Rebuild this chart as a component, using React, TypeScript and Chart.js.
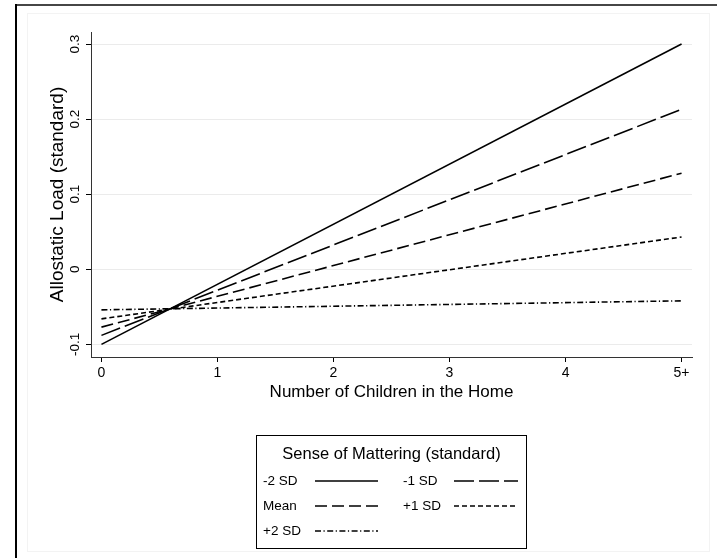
import React, { useEffect, useRef } from "react";
import { Chart, registerables } from "chart.js";

Chart.register(...registerables);

// ---- data ----
const xValues = [0, 5];
const xTickValues = [0, 1, 2, 3, 4, 5];
const xTickLabels = ["0", "1", "2", "3", "4", "5+"];
const yTickValues = [-0.1, 0, 0.1, 0.2, 0.3];
const yTickLabels = ["-0.1", "0", "0.1", "0.2", "0.3"];

const seriesLabels = ["-2 SD", "-1 SD", "Mean", "+1 SD", "+2 SD"];
const sdMinus2 = [-0.1, 0.3];
const sdMinus1 = [-0.088, 0.213];
const sdMean = [-0.077, 0.128];
const sdPlus1 = [-0.066, 0.043];
const sdPlus2 = [-0.054, -0.042];

const FONT = "'Liberation Sans', Arial, Helvetica, sans-serif";

const dashes: number[][] = [[], [20, 5], [12, 5], [5, 3], [6, 2.5, 1.2, 2.5]];

const framePlugin = {
  id: "frame",
  beforeDraw(chart: any) {
    const ctx = chart.ctx;
    ctx.save();
    ctx.fillStyle = "#ffffff";
    ctx.fillRect(0, 0, chart.width, chart.height);
    // faint inner box
    ctx.strokeStyle = "#f3f3f3";
    ctx.lineWidth = 1;
    ctx.strokeRect(27.5, 13.5, 682, 538);
    // outer frame
    ctx.fillStyle = "#464646";
    ctx.fillRect(16, 4, chart.width - 16, 2);
    ctx.fillStyle = "#000000";
    ctx.fillRect(15, 4, 2, chart.height - 4);
    ctx.restore();
  },
};

// tick labels drawn at the scales' own pixel positions
const tickLabelPlugin = {
  id: "tickLabels",
  afterDraw(chart: any) {
    const ctx = chart.ctx;
    const xs = chart.scales.x;
    const ys = chart.scales.y;
    ctx.save();
    ctx.fillStyle = "#000";
    ctx.font = `14px ${FONT}`;
    ctx.textAlign = "center";
    ctx.textBaseline = "middle";
    xTickValues.forEach((v, i) => {
      ctx.fillText(xTickLabels[i], xs.getPixelForValue(v), xs.top + 16);
    });
    ctx.font = `13.5px ${FONT}`;
    yTickValues.forEach((v, i) => {
      ctx.save();
      ctx.translate(ys.right - 16, ys.getPixelForValue(v));
      ctx.rotate(-Math.PI / 2);
      ctx.fillText(yTickLabels[i], 0, 0);
      ctx.restore();
    });
    ctx.restore();
  },
};

const legendPlugin = {
  id: "boxLegend",
  afterDraw(chart: any) {
    const ctx = chart.ctx;
    const ds = chart.data.datasets;
    const bx = 256.5, by = 435.5, bw = 270, bh = 113;
    ctx.save();
    ctx.strokeStyle = "#000";
    ctx.lineWidth = 1;
    ctx.strokeRect(bx, by, bw, bh);
    ctx.fillStyle = "#000";
    ctx.font = `16.5px ${FONT}`;
    ctx.textAlign = "center";
    ctx.textBaseline = "middle";
    ctx.fillText("Sense of Mattering (standard)", bx + bw / 2, 454);
    ctx.font = `13.5px ${FONT}`;
    ctx.textAlign = "left";
    const rows = [481, 506, 531];
    const cols = [
      { tx: 263, l1: 315, l2: 378 },
      { tx: 403, l1: 454, l2: 518 },
    ];
    ds.forEach((d: any, i: number) => {
      const r = rows[Math.floor(i / 2)];
      const c = cols[i % 2];
      ctx.fillStyle = "#000";
      ctx.fillText(d.label, c.tx, r);
      ctx.beginPath();
      ctx.setLineDash(d.borderDash || []);
      ctx.lineWidth = d.borderWidth;
      ctx.strokeStyle = d.borderColor;
      ctx.moveTo(c.l1, r);
      ctx.lineTo(c.l2, r);
      ctx.stroke();
      ctx.setLineDash([]);
    });
    ctx.restore();
  },
};

export default function App() {
  const ref = useRef<HTMLCanvasElement | null>(null);
  useEffect(() => {
    document.body.style.margin = "0";
    const canvas = ref.current;
    if (!canvas) return;
    const all = [sdMinus2, sdMinus1, sdMean, sdPlus1, sdPlus2];
    const chart = new Chart(canvas, {
      type: "line",
      data: {
        datasets: all.map((vals, i) => ({
          label: seriesLabels[i],
          data: vals.map((v, j) => ({ x: xValues[j], y: v })),
          borderColor: "#000000",
          borderWidth: 1.6,
          borderDash: dashes[i],
          pointRadius: 0,
          fill: false,
          tension: 0,
        })),
      },
      options: {
        animation: false,
        responsive: false,
        maintainAspectRatio: false,
        layout: { padding: { left: 20, top: 32, right: 25, bottom: 151 } },
        plugins: { legend: { display: false }, tooltip: { enabled: false } },
        scales: {
          x: {
            type: "linear",
            min: -0.09,
            max: 5.09,
            afterBuildTicks: (s: any) => {
              s.ticks = xTickValues.map((v) => ({ value: v }));
            },
            afterFit: (s: any) => {
              s.height = 50;
            },
            ticks: { display: false, autoSkip: false },
            grid: {
              drawOnChartArea: false,
              drawTicks: true,
              tickLength: 5,
              tickColor: "#000",
              tickWidth: 1,
            },
            border: { color: "#333", width: 1 },
            title: {
              display: true,
              text: "Number of Children in the Home",
              color: "#000",
              font: { family: FONT, size: 17 },
              padding: { top: 0, bottom: 4 },
            },
          },
          y: {
            type: "linear",
            min: -0.1168,
            max: 0.316,
            afterBuildTicks: (s: any) => {
              s.ticks = yTickValues.map((v) => ({ value: v }));
            },
            afterFit: (s: any) => {
              s.width = 71;
            },
            ticks: { display: false, autoSkip: false },
            grid: {
              color: "#ebebeb",
              lineWidth: 1,
              drawTicks: true,
              tickLength: 5,
              tickColor: "#000",
              tickWidth: 1,
            },
            border: { color: "#333", width: 1 },
            title: {
              display: true,
              text: "Allostatic Load (standard)",
              color: "#000",
              font: { family: FONT, size: 19 },
              padding: { top: 26, bottom: 0 },
            },
          },
        },
      },
      plugins: [framePlugin, tickLabelPlugin, legendPlugin],
    });
    return () => chart.destroy();
  }, []);
  return <canvas ref={ref} width={717} height={558} style={{ display: "block" }} />;
}
